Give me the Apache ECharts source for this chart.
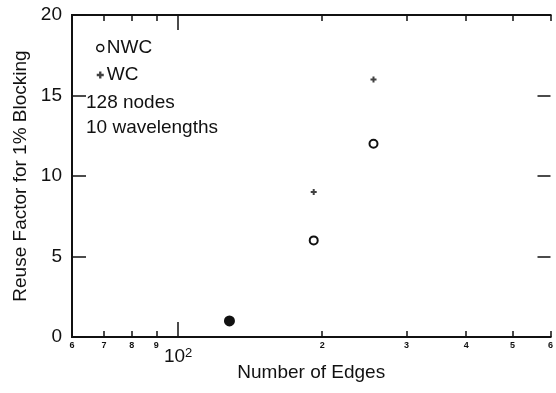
<!DOCTYPE html>
<html>
<head>
<meta charset="utf-8">
<script src="https://cdn.jsdelivr.net/npm/echarts@6/dist/echarts.min.js"></script>
<style>
  html, body { margin: 0; padding: 0; background: #fff; }
  #chart { width: 556px; height: 393px; }
</style>
</head>
<body>
<div id="chart"></div>
<script>
// data
const nwcEdges = [128, 192, 256]
const nwcReuse = [1, 6, 12]
const wcEdges = [128, 192, 256]
const wcReuse = [1, 9, 16]

// x tick marks (log axis, 60..600)
const xMinorTicks = [60, 70, 80, 90, 200, 300, 400, 500, 600]
const xMajorTicks = [100]

const ink = '#111'
const font = "'Liberation Sans', Arial, sans-serif"

const plus = 'path://M2,0H4V2H6V4H4V6H2V4H0V2H2Z'

function logAxis(position, ticks, tickLen, extra) {
  return Object.assign({
    type: 'log',
    logBase: 10,
    min: 60,
    max: 600,
    position: position,
    axisLine: { show: true, lineStyle: { color: ink, width: 2 } },
    axisTick: { show: true, inside: true, length: tickLen, customValues: ticks, lineStyle: { color: ink, width: 1.5 } },
    axisLabel: { show: false },
    minorTick: { show: false },
    splitLine: { show: false }
  }, extra || {})
}

const chart = echarts.init(document.getElementById('chart'))
chart.setOption({
  backgroundColor: '#fff',
  animation: false,
  grid: { left: 72, right: 0, top: 15, bottom: 56 },
  title: {
    text: '128 nodes\n10 wavelengths',
    left: 81,
    top: 85,
    textStyle: { fontFamily: font, fontSize: 19, fontWeight: 'normal', color: ink, lineHeight: 25 }
  },
  legend: {
    orient: 'vertical',
    left: 91,
    top: 33,
    itemGap: 7,
    itemWidth: 7,
    itemHeight: 7,
    textStyle: { fontFamily: font, fontSize: 19, color: ink, lineHeight: 20, padding: [0, 0, 0, -2] },
    data: [
      { name: 'NWC', icon: 'circle', itemStyle: { color: '#fff', borderColor: ink, borderWidth: 1.5 } },
      { name: 'WC', icon: plus }
    ]
  },
  xAxis: [
    logAxis('bottom', xMinorTicks, 6, {
      name: 'Number of Edges',
      nameLocation: 'middle',
      nameGap: 26,
      nameTextStyle: { fontFamily: font, fontSize: 19, color: ink },
      axisLabel: {
        show: true,
        customValues: xMinorTicks,
        margin: 4,
        fontFamily: font,
        fontSize: 9,
        fontWeight: 'bold',
        color: ink,
        formatter: v => String(v < 100 ? Math.round(v / 10) : Math.round(v / 100))
      }
    }),
    logAxis('bottom', xMajorTicks, 15, {
      axisLabel: {
        show: true,
        customValues: xMajorTicks,
        margin: 10,
        formatter: () => '{b|10}{s|2}',
        rich: {
          b: { fontFamily: font, fontSize: 19, color: ink, lineHeight: 20 },
          s: { fontFamily: font, fontSize: 13, color: ink, verticalAlign: 'top', lineHeight: 12 }
        }
      }
    }),
    logAxis('top', xMinorTicks, 6),
    logAxis('top', xMajorTicks, 15)
  ],
  yAxis: [
    {
      type: 'value',
      min: 0,
      max: 20,
      interval: 5,
      position: 'left',
      name: 'Reuse Factor for 1% Blocking',
      nameLocation: 'middle',
      nameGap: 41,
      nameTextStyle: { fontFamily: font, fontSize: 19, color: ink },
      axisLine: { show: true, lineStyle: { color: ink, width: 2 } },
      axisTick: { show: true, inside: true, length: 14, lineStyle: { color: ink, width: 1.5 } },
      axisLabel: { fontFamily: font, fontSize: 19, color: ink, margin: 10 },
      splitLine: { show: false }
    },
    {
      type: 'value',
      min: 0,
      max: 20,
      interval: 5,
      position: 'right',
      axisLine: { show: false },
      axisTick: { show: true, inside: true, length: 13, lineStyle: { color: ink, width: 1.5 } },
      axisLabel: { show: false },
      splitLine: { show: false }
    }
  ],
  series: [
    {
      name: 'WC',
      type: 'scatter',
      symbol: plus,
      symbolSize: 6,
      itemStyle: { color: ink },
      data: wcEdges.map((e, i) => [e, wcReuse[i]])
    },
    {
      name: 'NWC',
      type: 'scatter',
      symbol: 'circle',
      symbolSize: 8,
      itemStyle: { color: '#fff', borderColor: ink, borderWidth: 2, opacity: 1 },
      // the lowest point is drawn solid where both series coincide
      data: nwcEdges.map((e, i) => {
        const pt = { value: [e, nwcReuse[i]] }
        if (wcReuse[i] === nwcReuse[i]) {
          pt.itemStyle = { color: ink }
          pt.symbolSize = 9
        }
        return pt
      })
    }
  ]
})
</script>
</body>
</html>
